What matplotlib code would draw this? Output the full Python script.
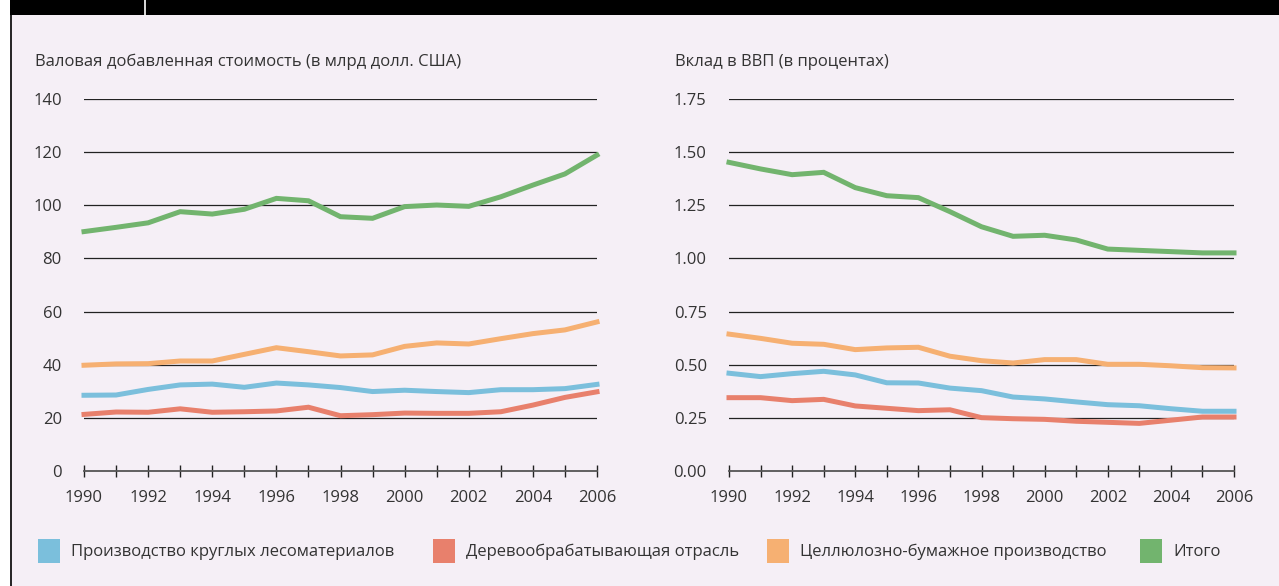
import matplotlib
matplotlib.use('Agg')
import matplotlib.pyplot as plt
from matplotlib.patches import Rectangle, Patch
from matplotlib.lines import Line2D

plt.rcParams['font.family'] = ['Open Sans', 'DejaVu Sans']

years = list(range(1990, 2007))

# Valovaya dobavlennaya stoimost (mlrd USD)
gva_roundwood = [28.5, 28.6, 30.7, 32.4, 32.7, 31.5, 33.1, 32.4, 31.4, 29.9, 30.4, 29.9, 29.5, 30.6, 30.6, 31.0, 32.6]
gva_wood = [21.3, 22.2, 22.1, 23.4, 22.1, 22.3, 22.6, 24.0, 20.8, 21.2, 21.8, 21.7, 21.7, 22.3, 24.8, 27.7, 29.8]
gva_pulp = [39.8, 40.3, 40.4, 41.4, 41.4, 43.9, 46.4, 44.9, 43.3, 43.7, 46.9, 48.2, 47.8, 49.8, 51.7, 53.1, 56.1]
gva_total = [90.1, 91.7, 93.4, 97.6, 96.7, 98.5, 102.6, 101.7, 95.7, 95.1, 99.5, 100.1, 99.6, 103.2, 107.6, 111.8, 118.9]

# Vklad v VVP (%)
gdp_roundwood = [0.460, 0.444, 0.458, 0.469, 0.452, 0.415, 0.414, 0.390, 0.378, 0.348, 0.339, 0.325, 0.312, 0.307, 0.293, 0.281, 0.281]
gdp_wood = [0.345, 0.345, 0.331, 0.337, 0.306, 0.295, 0.284, 0.288, 0.251, 0.246, 0.243, 0.234, 0.229, 0.224, 0.239, 0.254, 0.254]
gdp_pulp = [0.644, 0.624, 0.601, 0.596, 0.571, 0.579, 0.582, 0.540, 0.519, 0.508, 0.524, 0.524, 0.502, 0.502, 0.495, 0.486, 0.485]
gdp_total = [1.452, 1.421, 1.394, 1.405, 1.333, 1.295, 1.286, 1.220, 1.149, 1.104, 1.109, 1.087, 1.044, 1.038, 1.032, 1.026, 1.026]

labels = ['Производство круглых лесоматериалов', 'Деревообрабатывающая отрасль',
          'Целлюлозно-бумажное производство', 'Итого']
colors = ['#7bbfdc', '#e8806c', '#f6b072', '#72b46e']

bg = '#f5eff6'
text_col = '#333333'

fig = plt.figure(figsize=(12.79, 5.86), dpi=100, facecolor='white')

# panel background, black header bar and left border
fig.patches.append(Rectangle((10 / 1279, 0), 1, 1, transform=fig.transFigure, facecolor=bg, edgecolor='none', zorder=-5))
fig.patches.append(Rectangle((10 / 1279, 1 - 15 / 586), 1, 15 / 586, transform=fig.transFigure, facecolor='black', edgecolor='none', zorder=1))
fig.lines.append(Line2D([10.5 / 1279, 10.5 / 1279], [0, 1], transform=fig.transFigure, color='black', lw=1.2, zorder=2))
fig.lines.append(Line2D([145 / 1279, 145 / 1279], [1 - 15 / 586, 1], transform=fig.transFigure, color='white', lw=1.2, zorder=2))


def style_axes(ax, ymax, yticks, yfmt):
    ax.set_facecolor('none')
    ax.set_xlim(1990, 2006)
    ax.set_ylim(0, ymax)
    ax.set_xticks(years)
    ax.set_xticklabels([str(y) if y % 2 == 0 else '' for y in years])
    ax.set_yticks(yticks)
    ax.set_yticklabels([yfmt.format(v) for v in yticks])
    for v in yticks[1:]:
        ax.axhline(v, color='#222222', lw=0.9, zorder=1)
    for s in ['top', 'right', 'left']:
        ax.spines[s].set_visible(False)
    ax.spines['bottom'].set_color('#555555')
    ax.spines['bottom'].set_linewidth(1.3)
    ax.tick_params(axis='x', direction='inout', length=9, width=1, color='#222222',
                   labelsize=12, labelcolor=text_col, pad=9)
    ax.tick_params(axis='y', length=0, labelsize=12, labelcolor=text_col, pad=16)


ax1 = fig.add_axes([84 / 1279, 1 - 471 / 586, 513 / 1279, 372 / 586])
style_axes(ax1, 140, [0, 20, 40, 60, 80, 100, 120, 140], '{:.0f}')
for vals, c in zip([gva_roundwood, gva_wood, gva_pulp, gva_total], colors):
    ax1.plot(years, vals, color=c, lw=3.6, zorder=3, solid_joinstyle='miter', clip_on=False)

ax2 = fig.add_axes([729 / 1279, 1 - 471 / 586, 505 / 1279, 372 / 586])
style_axes(ax2, 1.75, [0, 0.25, 0.5, 0.75, 1.0, 1.25, 1.5, 1.75], '{:.2f}')
for vals, c in zip([gdp_roundwood, gdp_wood, gdp_pulp, gdp_total], colors):
    ax2.plot(years, vals, color=c, lw=3.6, zorder=3, solid_joinstyle='miter', clip_on=False)

fig.text(35 / 1279, 1 - 62 / 586, 'Валовая добавленная стоимость (в млрд долл. США)',
         fontsize=12, color=text_col, va='center', ha='left')
fig.text(675 / 1279, 1 - 62 / 586, 'Вклад в ВВП (в процентах)',
         fontsize=12, color=text_col, va='center', ha='left')

# legend entries placed one by one
leg_x = [38, 433, 767, 1140]
for lab, c, x in zip(labels, colors, leg_x):
    lg = fig.legend(handles=[Patch(facecolor=c, edgecolor='none', label=lab)],
                    loc='center left', bbox_to_anchor=(x / 1279, 1 - 551 / 586),
                    frameon=False, fontsize=12, handlelength=1.3, handleheight=1.75,
                    handletextpad=0.7, borderpad=0, borderaxespad=0, labelcolor=text_col)

fig.savefig('out.png', dpi=100, facecolor='white')
